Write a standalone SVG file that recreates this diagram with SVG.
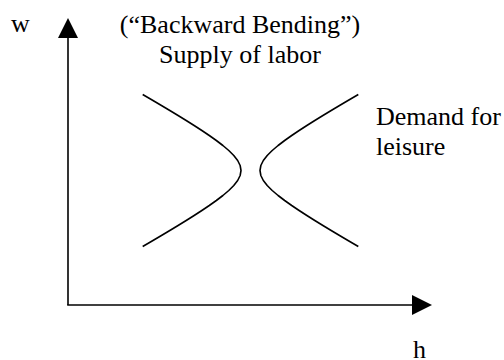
<svg xmlns="http://www.w3.org/2000/svg" width="504" height="360" viewBox="0 0 504 360">
<style>
text{font-family:"Liberation Serif","Times New Roman",serif;font-size:26px;fill:#000}
.ax{stroke:#000;stroke-width:1.6;fill:none}
.cv{stroke:#000;stroke-width:1.6;fill:none;stroke-linejoin:round;stroke-linecap:butt}
.ah{fill:#000}
</style>
<rect width="504" height="360" fill="#fff"/>
<g id="connectors">
<line class="ax" x1="68" y1="36" x2="68" y2="305"/>
<polygon class="ah" points="68,18 58,38 78,38"/>
<line class="ax" x1="67.2" y1="305" x2="414" y2="305"/>
<polygon class="ah" points="432,305 412,295 412,315"/>
</g>
<g id="supply-curve">
<polyline class="cv" points="142.7,94.5 152.98,100.5 161.44,105.5 169.82,110.5 178.08,115.5 186.2,120.5 194.14,125.5 201.86,130.5 209.29,135.5 216.34,140.5 222.89,145.5 228.78,150.5 233.79,155.5 237.67,160.5 240.15,165.5 241,170.5 240.15,175.5 237.67,180.5 233.79,185.5 228.78,190.5 222.89,195.5 216.34,200.5 209.29,205.5 201.86,210.5 194.14,215.5 186.2,220.5 178.08,225.5 169.82,230.5 161.44,235.5 152.98,240.5 142.7,246.5"/>
</g>
<g id="demand-curve">
<polyline class="cv" points="358.3,94.5 348.02,100.5 339.56,105.5 331.18,110.5 322.92,115.5 314.8,120.5 306.86,125.5 299.14,130.5 291.71,135.5 284.66,140.5 278.11,145.5 272.22,150.5 267.21,155.5 263.33,160.5 260.85,165.5 260,170.5 260.85,175.5 263.33,180.5 267.21,185.5 272.22,190.5 278.11,195.5 284.66,200.5 291.71,205.5 299.14,210.5 306.86,215.5 314.8,220.5 322.92,225.5 331.18,230.5 339.56,235.5 348.02,240.5 358.3,246.5"/>
</g>
<g id="label-w"><text x="11" y="32">w</text></g>
<g id="label-h"><text x="413" y="358">h</text></g>
<g id="label-supply">
<text x="240" y="33" text-anchor="middle">(“Backward Bending”)</text>
<text x="240" y="63" text-anchor="middle">Supply of labor</text>
</g>
<g id="label-demand">
<text x="376" y="125">Demand for</text>
<text x="376" y="155">leisure</text>
</g>
</svg>
